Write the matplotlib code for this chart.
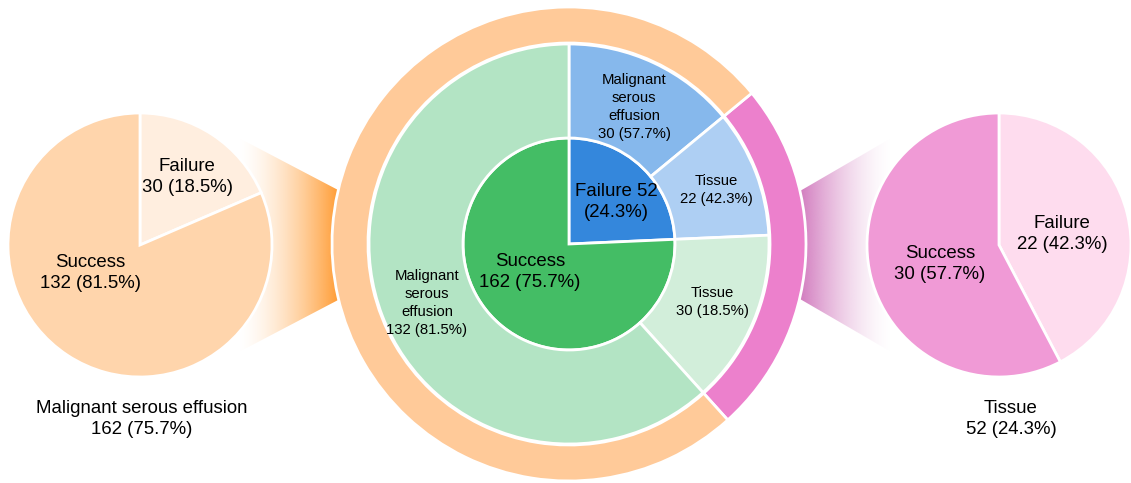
"""
Success / failure by specimen type: nested donut with two breakout pies.
"""

import numpy as np
import matplotlib.pyplot as plt
from matplotlib.colors import to_rgb
from matplotlib.patches import Polygon

plt.rcParams["font.family"] = ["Liberation Sans", "DejaVu Sans"]

OUTPUT_PNG = "out.png"
W, H = 1131, 483

# ---- data -------------------------------------------------------------
SPECIMENS = ["Malignant serous effusion", "Tissue"]
OUTCOMES = ["Success", "Failure"]
MSE_COUNTS = [132, 30]       # success, failure
TISSUE_COUNTS = [30, 22]     # success, failure

# ---- layout (pixel units, y measured from the bottom) ------------------
CENTER = (569, H - 244)
R_IN, R_MID, R_OUT = 106, 200, 237
LEFT = (140, H - 245)
RIGHT = (999, H - 245)
R_SIDE = 132

BIG = 13.4
SMALL = 10.7
LS_BIG = 1.27
LS_SMALL = 1.36
EDGE = dict(edgecolor="white", linewidth=2)


def pct(n, total):
    return f"{n} ({n / total * 100:.1f}%)"


def connector(ax, x_solid, x_clear, yc, h_solid, h_clear, color, power=1.6):
    poly = Polygon([(x_solid, yc + h_solid), (x_clear, yc + h_clear),
                    (x_clear, yc - h_clear), (x_solid, yc - h_solid)],
                   closed=True, facecolor="none", edgecolor="none")
    ax.add_patch(poly)
    x0, x1 = min(x_solid, x_clear), max(x_solid, x_clear)
    xs = np.linspace(x0, x1, 300)
    alpha = np.clip(np.abs(xs - x_clear) / abs(x_solid - x_clear), 0, 1) ** power
    img = np.zeros((1, len(xs), 4))
    img[..., :3] = to_rgb(color)
    img[..., 3] = alpha
    hmax = max(h_solid, h_clear)
    im = ax.imshow(img, extent=(x0, x1, yc - hmax, yc + hmax), aspect="auto",
                   interpolation="bilinear", zorder=0)
    im.set_clip_path(poly)


mse_s, mse_f = MSE_COUNTS
tis_s, tis_f = TISSUE_COUNTS
succ_total = mse_s + tis_s
fail_total = mse_f + tis_f
mse_total = mse_s + mse_f
tis_total = tis_s + tis_f
grand = succ_total + fail_total

fig = plt.figure(figsize=(W / 100, H / 100), dpi=100)
ax = fig.add_axes([0, 0, 1, 1])

# gradient bands linking the breakout pies to the outer ring
connector(ax, 340, 237, LEFT[1], 54, 108, "#ff9a30")
connector(ax, 800, 893, RIGHT[1], 54, 108, "#d27cbf")

# inner pie: overall outcome
ax.pie([fail_total, succ_total], radius=R_IN, center=CENTER, startangle=90,
       counterclock=False, colors=["#3487dc", "#44bd65"], wedgeprops=EDGE, frame=True)

# middle ring: specimen type within outcome
ax.pie([mse_f, tis_f, tis_s, mse_s], radius=R_MID, center=CENTER, startangle=90,
       counterclock=False, colors=["#86b8ec", "#aecff3", "#d2eeda", "#b3e4c4"],
       wedgeprops=dict(width=R_MID - R_IN, **EDGE), frame=True)

# outer ring: grouped by specimen type
ax.pie([tis_total, mse_total], radius=R_OUT, center=CENTER,
       startangle=90 - 360 * mse_f / grand, counterclock=False,
       colors=["#ec80cc", "#ffca99"],
       wedgeprops=dict(width=R_OUT - R_MID - 1, **EDGE), frame=True)

# breakout pies
ax.pie([mse_f, mse_s], radius=R_SIDE, center=LEFT, startangle=90,
       counterclock=False, colors=["#ffeedf", "#ffd5ac"], wedgeprops=EDGE, frame=True)
ax.pie([tis_f, tis_s], radius=R_SIDE, center=RIGHT, startangle=90,
       counterclock=False, colors=["#fedcee", "#f09ad6"], wedgeprops=EDGE, frame=True)

big = dict(ha="center", va="center", color="black", fontsize=BIG, linespacing=LS_BIG)
small = dict(ha="center", va="center", color="black", fontsize=SMALL, linespacing=LS_SMALL)

# centre labels
ax.text(616, H - 202, f"Failure {fail_total}\n({fail_total / grand * 100:.1f}%)", **big)
ax.text(530, H - 272, f"Success\n{pct(succ_total, grand)}", **big)

ax.text(634, H - 107, f"Malignant\nserous\neffusion\n{pct(mse_f, fail_total)}", **small)
ax.text(716, H - 190, f"{SPECIMENS[1]}\n{pct(tis_f, fail_total)}", **small)
ax.text(712, H - 302, f"{SPECIMENS[1]}\n{pct(tis_s, mse_total)}", **small)
ax.text(427, H - 303, f"Malignant\nserous\neffusion\n{pct(mse_s, mse_total)}", **small)

# breakout labels
ax.text(187, H - 177, f"Failure\n{pct(mse_f, mse_total)}", **big)
ax.text(90, H - 273, f"Success\n{pct(mse_s, mse_total)}", **big)
ax.text(1062, H - 234, f"Failure\n{pct(tis_f, tis_total)}", **big)
ax.text(940, H - 264, f"Success\n{pct(tis_s, tis_total)}", **big)

ax.text(142, H - 419, f"{SPECIMENS[0]}\n{pct(mse_total, grand)}", **big)
ax.text(1011, H - 419, f"{SPECIMENS[1]}\n{pct(tis_total, grand)}", **big)

ax.set_xlim(0, W)
ax.set_ylim(0, H)
ax.set_aspect("equal")
ax.axis("off")

fig.savefig(OUTPUT_PNG, dpi=100)
